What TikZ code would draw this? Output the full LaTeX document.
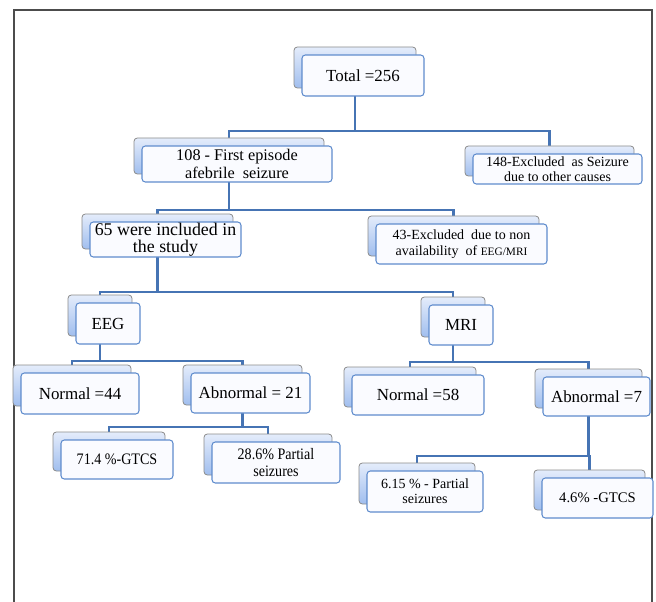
\documentclass[tikz,border=0pt]{standalone}
\usepackage{fontspec}
\setmainfont{Liberation Serif}
\newfontfamily\narrowserif[FakeStretch=0.88]{Liberation Serif}
\usetikzlibrary{shadows,backgrounds}

\begin{document}
\begin{tikzpicture}[x=0.75pt,y=-0.75pt]
	\def\fbig{\fontsize{12.7}{14}\selectfont}
	\def\fmid{\fontsize{11}{12.5}\selectfont}
	\def\fsmall{\fontsize{10.5}{11.5}\selectfont}
	\def\fnarrow{\narrowserif\fontsize{12}{12.5}\selectfont}

	\definecolor{link blue}{RGB}{70,116,180}
	\definecolor{box edge}{RGB}{95,140,205}
	\definecolor{box area}{RGB}{250,251,255}
	\definecolor{back top}{RGB}{228,236,251}
	\definecolor{back bottom}{RGB}{160,190,238}

	\tikzset{
		box/.style={draw=box edge, fill=box area, line width=0.8pt, rounded corners=2.5pt,
			inner sep=0pt, align=center,
			general shadow={shadow xshift=-6pt, shadow yshift=6pt, top color=back top,
				bottom color=back bottom, draw=black!45, line width=0.6pt}},
		link/.style={draw=link blue, line width=2pt},
		elbow/.style={to path={-- (\tikztostart |- 0,#1) -| (\tikztotarget)}},
	}

	\useasboundingbox (0,0) rectangle (656,602);
	\draw[black!70, line width=1.2pt] (14,602) -- (14,10) -- (652,10) -- (652,602); %frame

	\node[box, minimum width=91.5pt, minimum height=30.75pt, font=\fbig] (total) at (363,75.5) {Total =256};
	\node[box, minimum width=142.5pt, minimum height=27pt, font=\fontsize{12.2}{14}\selectfont] (first) at (237,164) {108 - First episode\\afebrile\ \ seizure};
	\node[box, minimum width=126.75pt, minimum height=22.5pt, font=\fsmall] (excl148) at (557.5,169) {148-Excluded\ \ as Seizure\\due to other causes};
	\node[box, minimum width=113.25pt, minimum height=26.25pt, font=\fontsize{13.4}{13}\selectfont] (incl) at (165.5,239.5) {65 were included in\\the study};
	\node[box, minimum width=128.25pt, minimum height=30pt, font=\fsmall] (excl43) at (461.5,244) {43-Excluded\ \ due to non\\availability\ \ of {\fontsize{8.5}{10}\selectfont EEG/MRI}};

	\node[box, minimum width=48pt, minimum height=30.75pt, font=\fbig] (eeg) at (108,323.5) {EEG};
	\node[box, minimum width=48pt, minimum height=30pt, font=\fbig] (mri) at (461,325) {MRI};

	\node[box, minimum width=88.5pt, minimum height=30.75pt, font=\fbig] (norm44) at (80,393.5) {Normal =44};
	\node[box, minimum width=89.25pt, minimum height=30pt, font=\fbig] (abn21) at (250.5,393) {Abnormal = 21};
	\node[box, minimum width=99pt, minimum height=30pt, font=\fbig] (norm58) at (418,395) {Normal =58};
	\node[box, minimum width=80.25pt, minimum height=29.25pt, font=\fbig] (abn7) at (596.5,396.5) {Abnormal =7};

	\node[box, minimum width=84pt, minimum height=29.25pt, font=\fnarrow] (gtcs71) at (117,459.5) {71.4 \%-GTCS};
	\node[box, minimum width=96pt, minimum height=30.75pt, font=\fnarrow] (part28) at (276,462.5) {28.6\% Partial\\seizures};
	\node[box, minimum width=87pt, minimum height=30.75pt, font=\fsmall] (part615) at (425,491.5) {6.15 \% - Partial\\seizures};
	\node[box, minimum width=83.25pt, minimum height=30pt, font=\fmid] (gtcs46) at (597.5,498) {4.6\% -GTCS};

	\begin{scope}[on background layer]
		\draw[link] ([xshift=-6pt]total.center) to[elbow=131] ([xshift=-6pt]first.center);
		\draw[link] ([xshift=-6pt]total.center) to[elbow=131] ([xshift=-6pt]excl148.center);
		\draw[link] ([xshift=-6pt]first.center) to[elbow=210] ([xshift=-6pt]incl.center);
		\draw[link] ([xshift=-6pt]first.center) to[elbow=210] ([xshift=-6pt]excl43.center);
		\draw[link] ([xshift=-6pt]incl.center) to[elbow=292] ([xshift=-6pt]eeg.center);
		\draw[link] ([xshift=-6pt]incl.center) to[elbow=292] ([xshift=-6pt]mri.center);
		\draw[link] ([xshift=-6pt]eeg.center) to[elbow=361] ([xshift=-6pt]norm44.center);
		\draw[link] ([xshift=-6pt]eeg.center) to[elbow=361] ([xshift=-6pt]abn21.center);
		\draw[link] ([xshift=-6pt]mri.center) to[elbow=362] ([xshift=-6pt]norm58.center);
		\draw[link] ([xshift=-6pt]mri.center) to[elbow=362] ([xshift=-6pt]abn7.center);
		\draw[link] ([xshift=-6pt]abn21.center) to[elbow=427] ([xshift=-6pt]gtcs71.center);
		\draw[link] ([xshift=-6pt]abn21.center) to[elbow=427] ([xshift=-6pt]part28.center);
		\draw[link] ([xshift=-6pt]abn7.center) to[elbow=456] ([xshift=-6pt]part615.center);
		\draw[link] ([xshift=-6pt]abn7.center) to[elbow=456] ([xshift=-6pt]gtcs46.center);
	\end{scope}
\end{tikzpicture}
\end{document}
